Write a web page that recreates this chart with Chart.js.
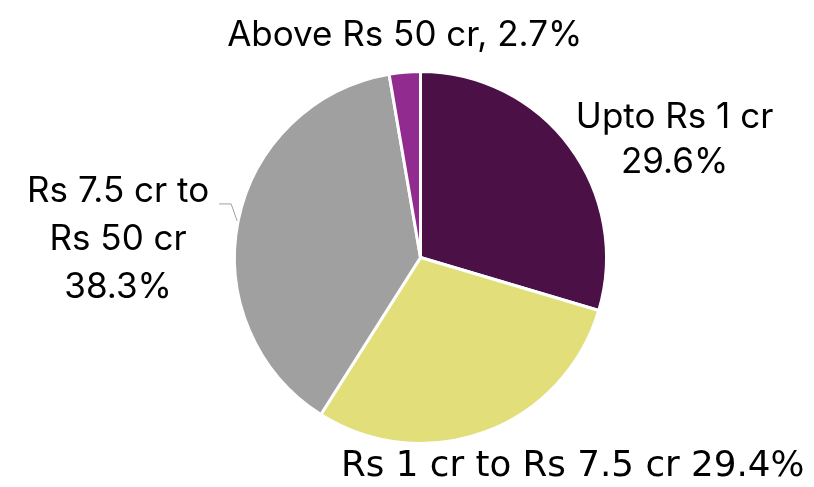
<!DOCTYPE html>
<html>
<head>
<meta charset="utf-8">
<script src="https://cdn.jsdelivr.net/npm/chart.js@4"></script>
<style>
  html, body { margin: 0; padding: 0; background: #fff; }
  #wrap { width: 814px; height: 487px; }
</style>
</head>
<body>
<div id="wrap"><canvas id="pie"></canvas></div>
<script>
// slice data, clockwise from 12 o'clock
const categories = ['Upto Rs 1 cr', 'Rs 1 cr to Rs 7.5 cr', 'Rs 7.5 cr to Rs 50 cr', 'Above Rs 50 cr'];
const shares = [29.6, 29.4, 38.3, 2.7];
const labelLines = [
  ['Upto Rs 1 cr', '29.6%'],
  ['Rs 1 cr to Rs 7.5 cr 29.4%'],
  ['Rs 7.5 cr to', 'Rs 50 cr', '38.3%'],
  ['Above Rs 50 cr, 2.7%']
];
const sliceColors = ['#4b1046', '#e2df7b', '#a0a0a0', '#912b8f'];

// label placement relative to the outer mid point of each arc
const labelOffsets = [
  { dx: 105, dy: -6, font: 'Inter', size: 35, lh: 45 },
  { dx: 87, dy: 35, font: 'DejaVu Sans', size: 35.7, lh: 45 },
  { dx: -120, dy: 19, font: 'Inter', size: 35, lh: 48, leader: true },
  { dx: 0, dy: -37, font: 'Inter', size: 35, lh: 45 }
];

const outsideLabels = {
  id: 'outsideLabels',
  afterDraw(chart) {
    const ctx = chart.ctx;
    const arcs = chart.getDatasetMeta(0).data;
    arcs.forEach((arc, i) => {
      const p = arc.getProps(['x', 'y', 'startAngle', 'endAngle', 'outerRadius'], true);
      const mid = (p.startAngle + p.endAngle) / 2;
      const ox = p.x + Math.cos(mid) * p.outerRadius;
      const oy = p.y + Math.sin(mid) * p.outerRadius;
      const o = labelOffsets[i];
      const lines = labelLines[i];
      ctx.save();
      if (o.leader) {
        ctx.strokeStyle = '#a0a0a0';
        ctx.lineWidth = 1;
        ctx.beginPath();
        ctx.moveTo(ox - 1, oy);
        ctx.lineTo(ox - 7, oy - 17);
        ctx.lineTo(ox - 19, oy - 17);
        ctx.stroke();
      }
      ctx.fillStyle = '#000';
      ctx.font = o.size + 'px "' + o.font + '"';
      ctx.textAlign = 'center';
      ctx.textBaseline = 'middle';
      const cx = ox + o.dx;
      const top = oy + o.dy - (lines.length - 1) * o.lh / 2;
      lines.forEach((t, k) => ctx.fillText(t, cx, top + k * o.lh));
      ctx.restore();
    });
  }
};

new Chart(document.getElementById('pie'), {
  type: 'pie',
  data: {
    labels: categories,
    datasets: [{
      data: shares,
      backgroundColor: sliceColors,
      borderColor: '#ffffff',
      borderWidth: 3
    }]
  },
  options: {
    responsive: true,
    maintainAspectRatio: false,
    animation: false,
    layout: { padding: { left: 233, right: 206, top: 70, bottom: 42 } },
    plugins: {
      legend: { display: false },
      tooltip: { enabled: false }
    }
  },
  plugins: [outsideLabels]
});
</script>
</body>
</html>
